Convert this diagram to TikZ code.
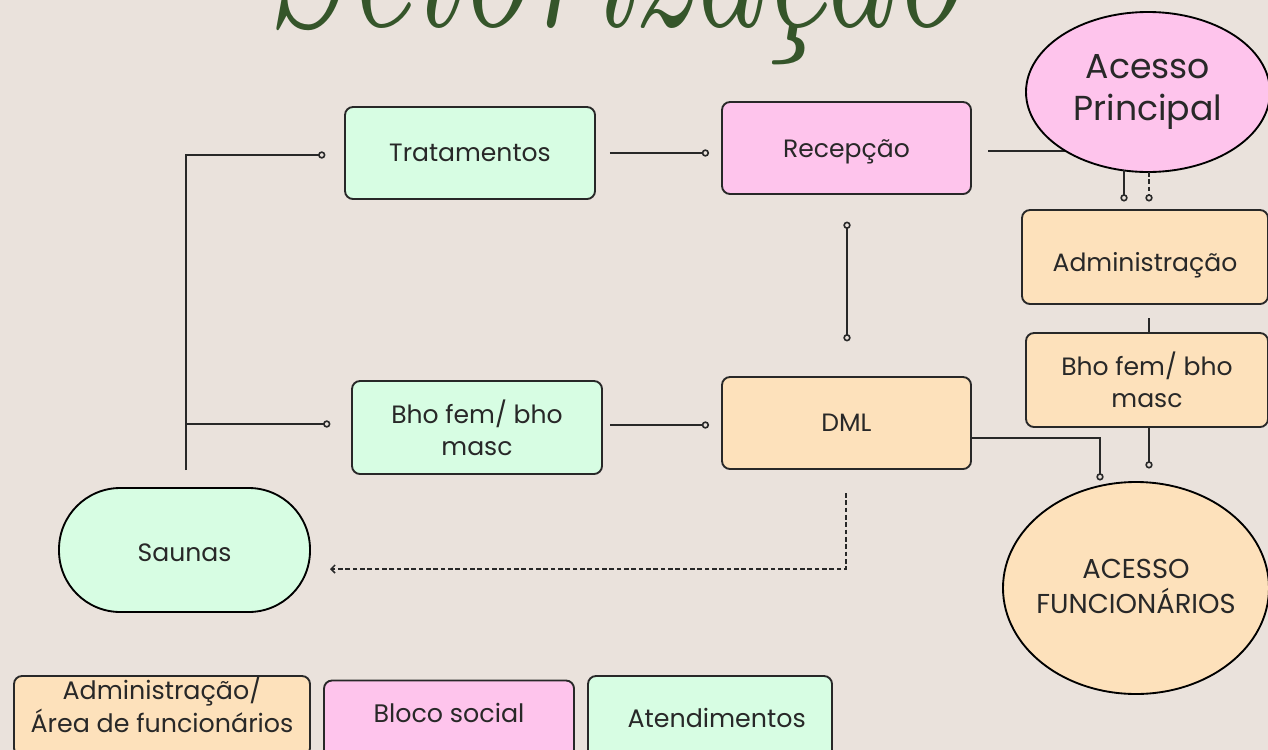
\documentclass[tikz,border=0pt]{standalone}
\usepackage{fontspec}
\setmainfont{Poppins}
\usetikzlibrary{arrows.meta,shapes.geometric}
\definecolor{bg}{RGB}{234,226,220}
\definecolor{mint}{RGB}{215,253,227}
\definecolor{pinkc}{RGB}{254,196,236}
\definecolor{peach}{RGB}{253,225,187}
\definecolor{ink}{RGB}{40,40,40}
\definecolor{titlegreen}{RGB}{53,85,42}
\newcommand{\shiftup}[2]{\raisebox{#1}[\height][\depth]{#2}}
\begin{document}
\begin{tikzpicture}[x=0.75pt,y=-0.75pt,
  sz/.style 2 args={minimum width=#1*0.75pt,minimum height=#2*0.75pt},
  box/.style={draw=ink,line width=1.4pt,rounded corners=6pt,align=center,inner sep=0pt,text=ink,font=\fontsize{18.8}{24}\selectfont},
  oval/.style={ellipse,draw=black,line width=1.4pt,align=center,inner sep=0pt,text=ink},
  conn/.style={draw=ink,line width=1.4pt},
  dot/.style={-{Circle[open,length=5.5pt,width=5.5pt,line width=1.2pt]}},
  dotdot/.style={{Circle[open,length=5.5pt,width=5.5pt,line width=1.2pt]}-{Circle[open,length=5.5pt,width=5.5pt,line width=1.2pt]}},
  dashln/.style={dash pattern=on 3.5pt off 2pt,line width=1.1pt},
  legend/.style={box,font=\fontsize{19}{24}\selectfont}
]
\fill[bg] (0,0) rectangle (1268,750);
\clip (0,0) rectangle (1268,750);
\useasboundingbox (0,0) rectangle (1268,750);

% title
\node[anchor=base,text=titlegreen,inner sep=0pt] (title) at (615,26)
  {\scalebox{0.72}[1]{\fontsize{150}{150}\selectfont\fontspec{Latin Modern Roman}\itshape Setorização}};

% nodes
\node[box,fill=mint,sz={250}{92}] (trat) at (470,153) {Tratamentos};
\node[box,fill=pinkc,sz={249}{92}] (rec) at (846.5,148) {\shiftup{-3pt}{Recepção}};
\node[box,fill=mint,sz={250}{93}] (bhoL) at (477,427.5) {Bho fem/ bho\\masc};
\node[box,fill=peach,sz={249}{92}] (dml) at (846.5,423) {DML};
\node[box,fill=peach,sz={246}{94}] (adm) at (1145,257) {\shiftup{-6.5pt}{Administração}};
\node[box,fill=peach,sz={242}{94}] (bhoR) at (1147,380) {Bho fem/ bho\\masc};
\node[box,fill=mint,draw=black,sz={251}{124},rounded corners=46pt] (sauna) at (184.5,550) {\shiftup{-2pt}{Saunas}};

% connectors
\coordinate (recOut) at (988,151);
\coordinate (acPin) at (1068,151);
\draw[conn] (recOut) -- (acPin);
\node[oval,fill=pinkc,sz={244}{160},font=\fontsize{26}{31}\selectfont] (acP) at (1148,92) {Acesso\\Principal};
\node[oval,fill=peach,sz={266}{212},font=\fontsize{20.5}{24}\selectfont] (acF) at (1136,588) {\makebox[90pt]{\shiftup{-1pt}{\begin{tabular}{@{}c@{}}ACESSO\\FUNCIONÁRIOS\end{tabular}}}};

\coordinate (bBot) at (186,470);
\coordinate (bTop) at (186,155);
\coordinate (bMid) at (186,424);
\draw[conn,dot] (bBot) -- (bTop) -- ([xshift=-14pt]trat.west |- bTop);
\draw[conn,dot] (bMid) -- ([xshift=-15.5pt]bhoL.west |- bMid);

\draw[conn,dot] ([xshift=10.5pt]trat.east) -- ([xshift=-9pt]rec.west |- trat.east);
\draw[conn,dot] ([xshift=5.5pt]bhoL.east |- 0,425) -- ([xshift=-9pt]dml.west |- 0,425);
\draw[conn,dotdot] ([yshift=-20pt]rec.south -| 847,0) -- ([yshift=26pt]dml.north -| 847,0);

\coordinate (pS) at (1124,170);
\coordinate (pD) at (1149,172);
\draw[conn,dot] (pS) -- (1124,201.5);
\draw[conn,dashln,dot] (pD) -- (1149,201.5);

\coordinate (admL) at (1149,318);
\draw[conn] (admL) -- (admL |- bhoR.north);
\draw[conn,dot] (bhoR.south -| 1149,0) -- (1149,468.5);
\draw[conn,dot] (dml.east |- 0,438) -- (1100,438) -- (1100,480.5);

\coordinate (dS) at (846,493);
\draw[conn,dashln,-{Straight Barb[length=3pt,width=6pt]}] (dS) -- (846,569) -- (330,569);

% legend
\node[legend,fill=peach,sz={296}{80}] (legA) at (162,716) {\shiftup{5.6pt}{\begin{tabular}{@{}c@{}}Administração/\\Área de funcionários\end{tabular}}};
\node[legend,fill=pinkc,sz={250}{80}] (legB) at (449,720.5) {\shiftup{6pt}{Bloco social}};
\node[legend,fill=mint,sz={244}{84}] (legC) at (710,718) {\hspace{10pt}Atendimentos};
\end{tikzpicture}
\end{document}
